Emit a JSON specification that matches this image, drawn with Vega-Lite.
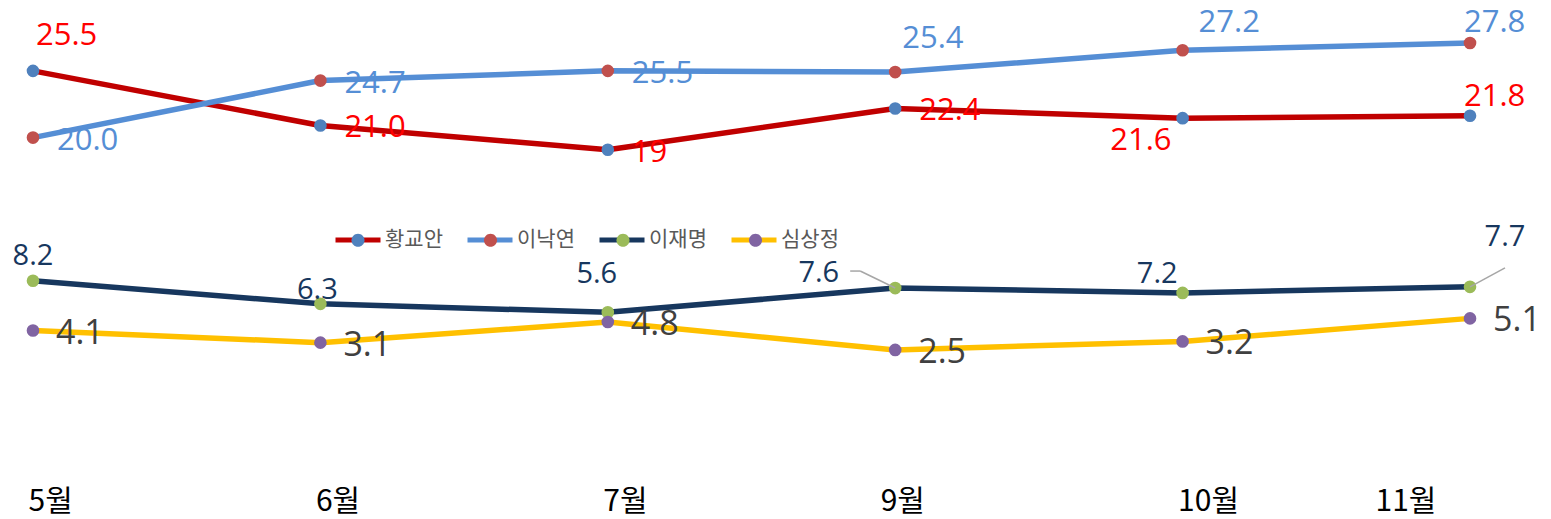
{
  "$schema": "https://vega.github.io/schema/vega-lite/v6.json",
  "width": 1503,
  "height": 480,
  "autosize": {"type": "none"},
  "padding": {"left": 0, "top": 0, "right": 48, "bottom": 39},
  "background": "white",
  "config": {"view": {"stroke": null}},
  "data": {
    "values": [
      {"month": "5월", "name": "황교안", "value": 25.5, "label": "25.5"},
      {"month": "6월", "name": "황교안", "value": 21.0, "label": "21.0"},
      {"month": "7월", "name": "황교안", "value": 19, "label": "19"},
      {"month": "9월", "name": "황교안", "value": 22.4, "label": "22.4"},
      {"month": "10월", "name": "황교안", "value": 21.6, "label": "21.6"},
      {"month": "11월", "name": "황교안", "value": 21.8, "label": "21.8"},
      {"month": "5월", "name": "이낙연", "value": 20.0, "label": "20.0"},
      {"month": "6월", "name": "이낙연", "value": 24.7, "label": "24.7"},
      {"month": "7월", "name": "이낙연", "value": 25.5, "label": "25.5"},
      {"month": "9월", "name": "이낙연", "value": 25.4, "label": "25.4"},
      {"month": "10월", "name": "이낙연", "value": 27.2, "label": "27.2"},
      {"month": "11월", "name": "이낙연", "value": 27.8, "label": "27.8"},
      {"month": "5월", "name": "이재명", "value": 8.2, "label": "8.2"},
      {"month": "6월", "name": "이재명", "value": 6.3, "label": "6.3"},
      {"month": "7월", "name": "이재명", "value": 5.6, "label": "5.6"},
      {"month": "9월", "name": "이재명", "value": 7.6, "label": "7.6"},
      {"month": "10월", "name": "이재명", "value": 7.2, "label": "7.2"},
      {"month": "11월", "name": "이재명", "value": 7.7, "label": "7.7"},
      {"month": "5월", "name": "심상정", "value": 4.1, "label": "4.1"},
      {"month": "6월", "name": "심상정", "value": 3.1, "label": "3.1"},
      {"month": "7월", "name": "심상정", "value": 4.8, "label": "4.8"},
      {"month": "9월", "name": "심상정", "value": 2.5, "label": "2.5"},
      {"month": "10월", "name": "심상정", "value": 3.2, "label": "3.2"},
      {"month": "11월", "name": "심상정", "value": 5.1, "label": "5.1"}
    ]
  },
  "encoding": {
    "x": {
      "field": "month",
      "type": "ordinal",
      "sort": ["5월", "6월", "7월", "9월", "10월", "11월"],
      "scale": {"type": "point", "domain": ["5월", "6월", "7월", "9월", "10월", "11월"], "padding": 0.1148},
      "axis": {
        "title": null,
        "domain": false,
        "ticks": false,
        "grid": false,
        "labelAngle": 0,
        "labelAlign": "left",
        "labelBaseline": "top",
        "labelPadding": 6,
        "labelFont": "Liberation Sans Narrow, Noto Sans CJK KR",
        "labelFontSize": 30,
        "labelColor": "#000000",
        "labelOffset": {"condition": [{"test": "datum.value === '9월'", "value": -15}, {"test": "datum.value === '11월'", "value": -95}], "value": -5}
      }
    },
    "y": {
      "field": "value",
      "type": "quantitative",
      "scale": {"domain": [-8.22, 31.34], "nice": false, "zero": false},
      "axis": null
    }
  },
  "layer": [
    {
      "mark": {"type": "line", "strokeWidth": 5.5, "strokeJoin": "round", "strokeCap": "round"},
      "encoding": {
        "stroke": {
          "field": "name",
          "type": "nominal",
          "scale": {"domain": ["황교안", "이낙연", "이재명", "심상정"], "range": ["#C00000", "#558ED5", "#17375E", "#FFC000"]},
          "legend": {
            "orient": "none", "legendX": 333, "legendY": 215, "direction": "horizontal", "title": null,
            "symbolType": "stroke", "symbolSize": 2025, "symbolStrokeWidth": 5,
            "labelFont": "Noto Sans CJK KR", "labelFontSize": 21, "labelColor": "#595959", "labelOffset": 2,
            "columnPadding": 14, "padding": 0, "zindex": 1
          }
        }
      }
    },
    {
      "mark": {"type": "circle", "size": 160, "opacity": 1},
      "encoding": {
        "fill": {
          "field": "name",
          "type": "nominal",
          "sort": ["황교안", "이낙연", "이재명", "심상정"],
          "scale": {"range": ["#4F81BD", "#C0504D", "#9BBB59", "#8064A2"]},
          "legend": {
            "orient": "none", "legendX": 333, "legendY": 215, "direction": "horizontal", "title": null,
            "symbolType": "M-1,0M1,0M-0.29,0A0.29,0.29 0 1,0 0.29,0A0.29,0.29 0 1,0 -0.29,0Z", "symbolSize": 2025, "symbolStrokeWidth": 5,
            "symbolStrokeColor": "transparent", "symbolOpacity": 1,
            "labelExpr": "''",
            "labelFont": "Noto Sans CJK KR", "labelFontSize": 21, "labelColor": "#595959", "labelOffset": 2,
            "columnPadding": 66.5, "padding": 0, "zindex": 2
          }
        }
      }
    },
    {
      "transform": [{"filter": "datum.name === '이재명' && datum.month === '9월'"}],
      "mark": {"type": "rule", "stroke": "#A6A6A6", "strokeWidth": 1.5, "x2Offset": -35, "y2Offset": -17},
      "encoding": {"x2": {"field": "month"}, "y2": {"field": "value"}}
    },
    {
      "transform": [{"filter": "datum.name === '이재명' && datum.month === '9월'"}],
      "mark": {"type": "rule", "stroke": "#A6A6A6", "strokeWidth": 1.5, "xOffset": -35, "yOffset": -17, "x2Offset": -45, "y2Offset": -17},
      "encoding": {"x2": {"field": "month"}, "y2": {"field": "value"}}
    },
    {
      "transform": [{"filter": "datum.name === '이재명' && datum.month === '11월'"}],
      "mark": {"type": "rule", "stroke": "#A6A6A6", "strokeWidth": 1.5, "x2Offset": 35, "y2Offset": -19},
      "encoding": {"x2": {"field": "month"}, "y2": {"field": "value"}}
    },
    {
      "transform": [{"filter": "datum.name === '황교안' && indexof(['6월','7월','9월'], datum.month) >= 0"}],
      "mark": {"type": "text", "align": "left", "baseline": "middle", "dx": 24, "dy": 3, "font": "Open Sans", "fontSize": 31, "fill": "#FF0000"},
      "encoding": {"text": {"field": "label"}}
    },
    {
      "transform": [{"filter": "datum.name === '황교안' && datum.month === '5월'"}],
      "mark": {"type": "text", "align": "left", "baseline": "middle", "dx": 3, "dy": -35, "font": "Open Sans", "fontSize": 31, "fill": "#FF0000"},
      "encoding": {"text": {"field": "label"}}
    },
    {
      "transform": [{"filter": "datum.name === '황교안' && datum.month === '10월'"}],
      "mark": {"type": "text", "align": "right", "baseline": "middle", "dx": -11, "dy": 23, "font": "Open Sans", "fontSize": 31, "fill": "#FF0000"},
      "encoding": {"text": {"field": "label"}}
    },
    {
      "transform": [{"filter": "datum.name === '황교안' && datum.month === '11월'"}],
      "mark": {"type": "text", "align": "left", "baseline": "middle", "dx": -6, "dy": -19, "font": "Open Sans", "fontSize": 31, "fill": "#FF0000"},
      "encoding": {"text": {"field": "label"}}
    },
    {
      "transform": [{"filter": "datum.name === '이낙연' && indexof(['5월','6월','7월'], datum.month) >= 0"}],
      "mark": {"type": "text", "align": "left", "baseline": "middle", "dx": 24, "dy": 3, "font": "Open Sans", "fontSize": 31, "fill": "#558ED5"},
      "encoding": {"text": {"field": "label"}}
    },
    {
      "transform": [{"filter": "datum.name === '이낙연' && datum.month === '9월'"}],
      "mark": {"type": "text", "align": "left", "baseline": "middle", "dx": 7, "dy": -33, "font": "Open Sans", "fontSize": 31, "fill": "#558ED5"},
      "encoding": {"text": {"field": "label"}}
    },
    {
      "transform": [{"filter": "datum.name === '이낙연' && datum.month === '10월'"}],
      "mark": {"type": "text", "align": "left", "baseline": "middle", "dx": 16, "dy": -27, "font": "Open Sans", "fontSize": 31, "fill": "#558ED5"},
      "encoding": {"text": {"field": "label"}}
    },
    {
      "transform": [{"filter": "datum.name === '이낙연' && datum.month === '11월'"}],
      "mark": {"type": "text", "align": "left", "baseline": "middle", "dx": -6, "dy": -20, "font": "Open Sans", "fontSize": 31, "fill": "#558ED5"},
      "encoding": {"text": {"field": "label"}}
    },
    {
      "transform": [{"filter": "datum.name === '이재명' && datum.month === '5월'"}],
      "mark": {"type": "text", "align": "center", "baseline": "middle", "dx": 0, "dy": -25, "font": "Open Sans", "fontSize": 29, "fill": "#17375E"},
      "encoding": {"text": {"field": "label"}}
    },
    {
      "transform": [{"filter": "datum.name === '이재명' && datum.month === '6월'"}],
      "mark": {"type": "text", "align": "center", "baseline": "middle", "dx": -3, "dy": -14, "font": "Open Sans", "fontSize": 29, "fill": "#17375E"},
      "encoding": {"text": {"field": "label"}}
    },
    {
      "transform": [{"filter": "datum.name === '이재명' && datum.month === '7월'"}],
      "mark": {"type": "text", "align": "center", "baseline": "middle", "dx": -11, "dy": -38, "font": "Open Sans", "fontSize": 29, "fill": "#17375E"},
      "encoding": {"text": {"field": "label"}}
    },
    {
      "transform": [{"filter": "datum.name === '이재명' && datum.month === '9월'"}],
      "mark": {"type": "text", "align": "right", "baseline": "middle", "dx": -56, "dy": -15, "font": "Open Sans", "fontSize": 29, "fill": "#17375E"},
      "encoding": {"text": {"field": "label"}}
    },
    {
      "transform": [{"filter": "datum.name === '이재명' && datum.month === '10월'"}],
      "mark": {"type": "text", "align": "right", "baseline": "middle", "dx": -5, "dy": -19, "font": "Open Sans", "fontSize": 29, "fill": "#17375E"},
      "encoding": {"text": {"field": "label"}}
    },
    {
      "transform": [{"filter": "datum.name === '이재명' && datum.month === '11월'"}],
      "mark": {"type": "text", "align": "center", "baseline": "middle", "dx": 35, "dy": -50, "font": "Open Sans", "fontSize": 29, "fill": "#17375E"},
      "encoding": {"text": {"field": "label"}}
    },
    {
      "transform": [{"filter": "datum.name === '심상정'"}],
      "mark": {"type": "text", "align": "left", "baseline": "middle", "dx": 23, "dy": 3, "font": "Open Sans", "fontSize": 34, "fill": "#404040"},
      "encoding": {"text": {"field": "label"}}
    }
  ]
}
